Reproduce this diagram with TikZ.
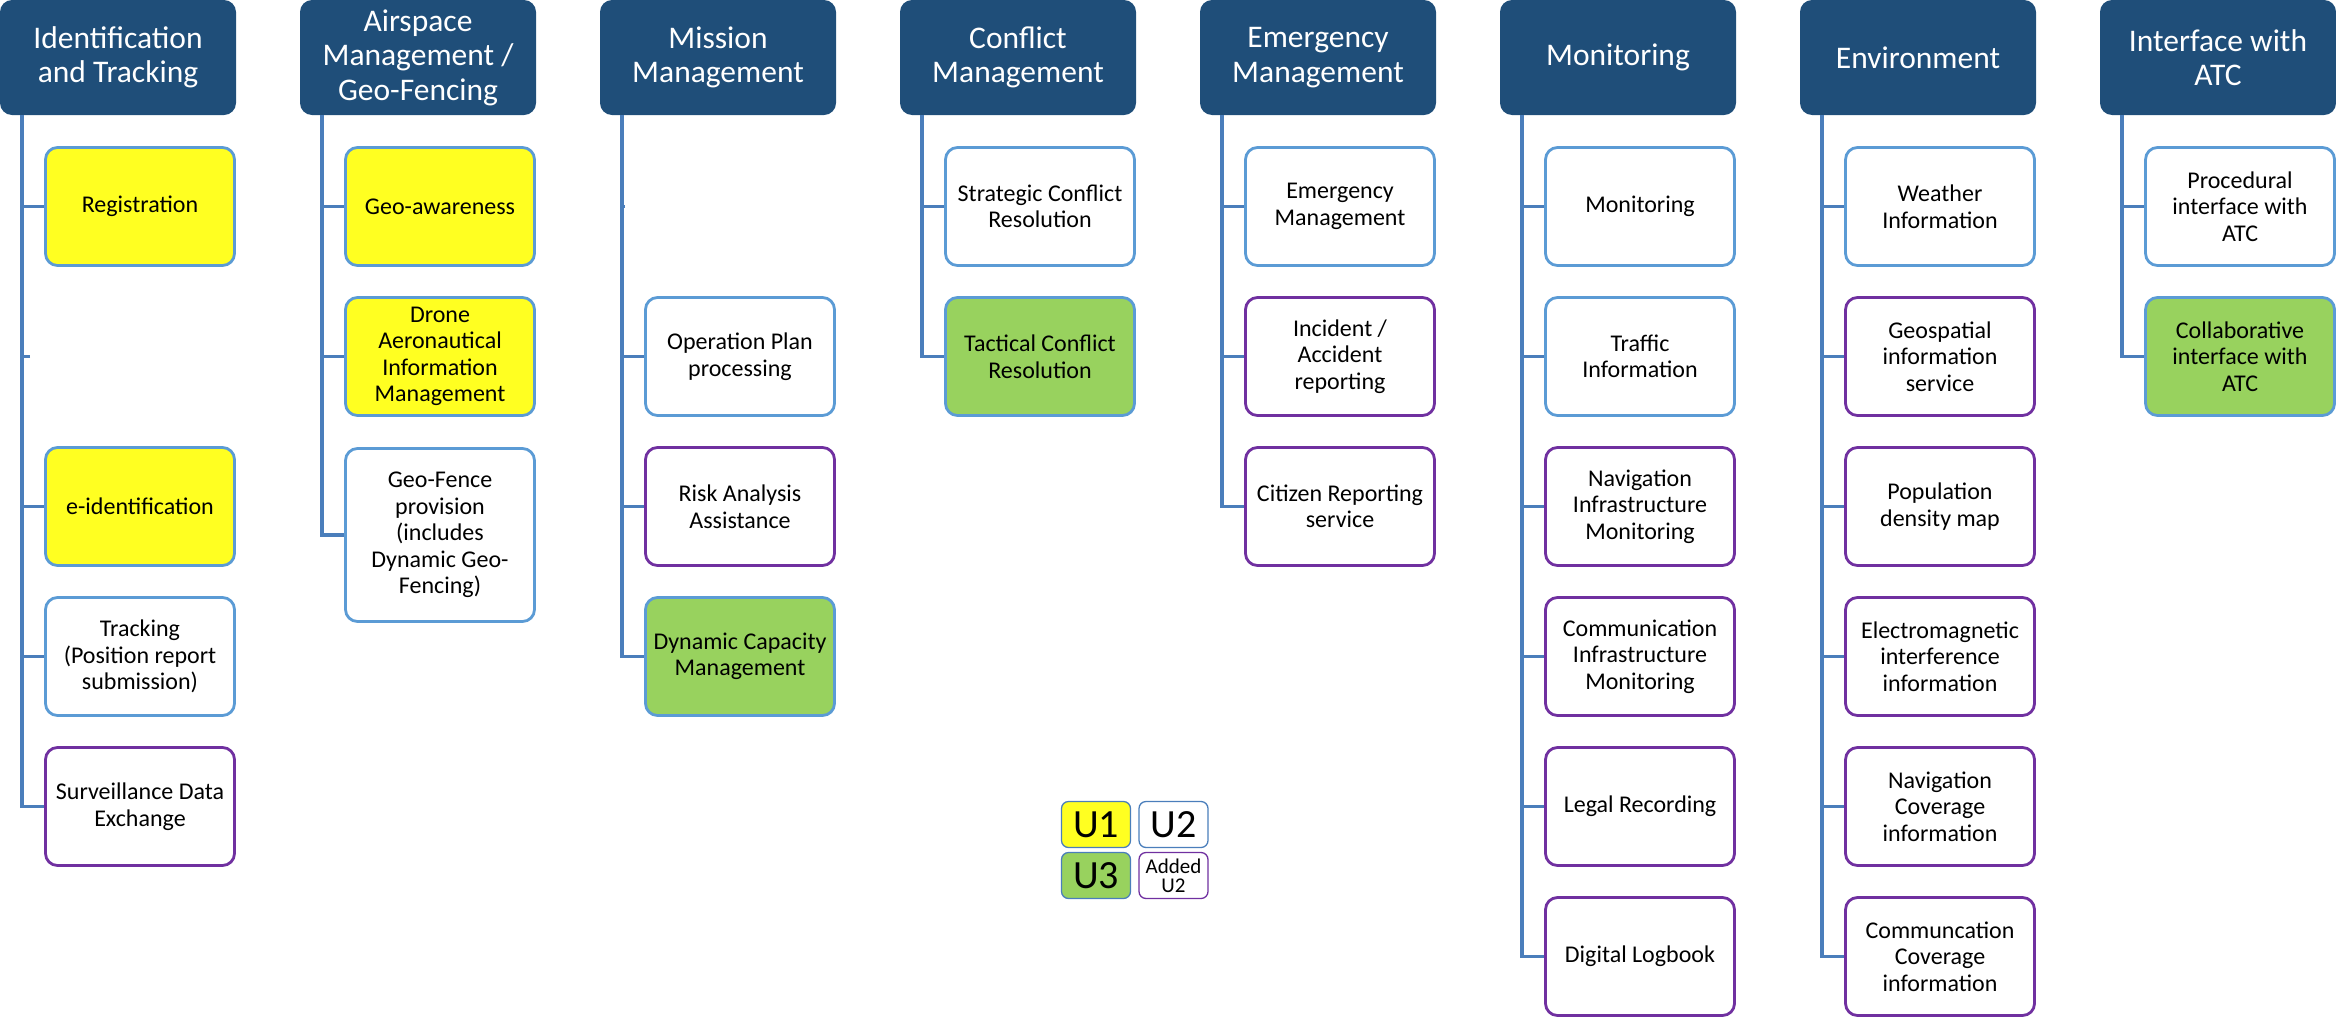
\documentclass[tikz,border=0pt]{standalone}
\usepackage{fontspec}
\setmainfont{Carlito}
\definecolor{hdrblue}{HTML}{1F4E79}
\definecolor{itemblue}{HTML}{5B9BD5}
\definecolor{treeblue}{HTML}{4A7EBB}
\definecolor{upurple}{HTML}{7030A0}
\definecolor{uyellow}{HTML}{FFFF21}
\definecolor{ugreen}{HTML}{98D25E}
\begin{document}
\begin{tikzpicture}[x=1pt,y=-1pt,
  hdr/.style={rectangle, rounded corners=12pt, fill=hdrblue, text=white,
    minimum width=236pt, minimum height=115pt, inner sep=0pt, align=center,
    font=\fontsize{31.5}{34.5}\selectfont},
  item/.style={rectangle, rounded corners=12pt, draw=itemblue, line width=2.8pt,
    fill=white, minimum width=189pt, minimum height=118pt, inner sep=0pt,
    align=center, font=\fontsize{24}{26.5}\selectfont},
  u1/.style={item, fill=uyellow},
  u3/.style={item, fill=ugreen},
  added/.style={item, draw=upurple},
  tree/.style={draw=treeblue, line width=3.2pt},
  key/.style={rectangle, rounded corners=7pt, draw=treeblue, line width=1.3pt,
    fill=white, minimum width=69pt, minimum height=46pt, inner sep=0pt,
    align=center, font=\fontsize{40}{40}\selectfont}
]
\useasboundingbox (0,0) rectangle (2336,1018);

% ---------- column headers ----------
\node[hdr] (h0) at (118,57.5)  {Identification\\and Tracking};
\node[hdr] (h1) at (418,57.5)  {Airspace\\Management /\\Geo-Fencing};
\node[hdr] (h2) at (718,57.5)  {Mission\\Management};
\node[hdr] (h3) at (1018,57.5) {Conflict\\Management};
\node[hdr] (h4) at (1318,57.5) {Emergency\\Management};
\node[hdr] (h5) at (1618,57.5) {Monitoring};
\node[hdr] (h6) at (1918,57.5) {Environment};
\node[hdr] (h7) at (2218,57.5) {Interface with\\ATC};

% trunk positions below each header
\coordinate (t0) at (22,115);
\coordinate (t1) at (322,115);
\coordinate (t2) at (622,115);
\coordinate (t3) at (922,115);
\coordinate (t4) at (1222,115);
\coordinate (t5) at (1522,115);
\coordinate (t6) at (1822,115);
\coordinate (t7) at (2122,115);

% ---------- Identification and Tracking ----------
\node[u1] (c0a) at (140,206.5) {Registration};
\coordinate (s0) at (30,356.5);
\node[u1] (c0c) at (140,506.5) {e-identification};
\node[item] (c0d) at (140,656.5) {Tracking\\(Position report\\submission)};
\node[added] (c0e) at (140,806.5) {Surveillance Data\\Exchange};

% ---------- Airspace Management / Geo-Fencing ----------
\node[u1] (c1a) at (440,206.5) {Geo-awareness};
\node[u1] (c1b) at (440,356.5) {Drone\\Aeronautical\\Information\\Management};
\node[item, minimum height=173pt] (c1c) at (440,535)
  {Geo-Fence\\provision\\(includes\\Dynamic Geo-\\Fencing)};

% ---------- Mission Management ----------
\coordinate (s2) at (625,206.5);
\node[item] (c2b) at (740,356.5) {Operation Plan\\processing};
\node[added] (c2c) at (740,506.5) {Risk Analysis\\Assistance};
\node[u3] (c2d) at (740,656.5) {Dynamic Capacity\\Management};

% ---------- Conflict Management ----------
\node[item] (c3a) at (1040,206.5) {Strategic Conflict\\Resolution};
\node[u3] (c3b) at (1040,356.5) {Tactical Conflict\\Resolution};

% ---------- Emergency Management ----------
\node[item] (c4a) at (1340,206.5) {Emergency\\Management};
\node[added] (c4b) at (1340,356.5) {Incident /\\Accident\\reporting};
\node[added] (c4c) at (1340,506.5) {Citizen Reporting\\service};

% ---------- Monitoring ----------
\node[item] (c5a) at (1640,206.5) {Monitoring};
\node[item] (c5b) at (1640,356.5) {Traffic\\Information};
\node[added] (c5c) at (1640,506.5) {Navigation\\Infrastructure\\Monitoring};
\node[added] (c5d) at (1640,656.5) {Communication\\Infrastructure\\Monitoring};
\node[added] (c5e) at (1640,806.5) {Legal Recording};
\node[added] (c5f) at (1640,956.5) {Digital Logbook};

% ---------- Environment ----------
\node[item] (c6a) at (1940,206.5) {Weather\\Information};
\node[added] (c6b) at (1940,356.5) {Geospatial\\information\\service};
\node[added] (c6c) at (1940,506.5) {Population\\density map};
\node[added] (c6d) at (1940,656.5) {Electromagnetic\\interference\\information};
\node[added] (c6e) at (1940,806.5) {Navigation\\Coverage\\information};
\node[added] (c6f) at (1940,956.5) {Communcation\\Coverage\\information};

% ---------- Interface with ATC ----------
\node[item] (c7a) at (2240,206.5) {Procedural\\interface with\\ATC};
\node[u3] (c7b) at (2240,356.5) {Collaborative\\interface with\\ATC};

% ---------- tree connectors ----------
\draw[tree] (t0) |- (c0e.west);
\foreach \c in {c0a,c0c,c0d} \draw[tree] (\c.west) -- (\c.west -| t0);
\draw[tree] (s0) -- (s0 -| t0);

\draw[tree] (t1) |- (c1c.west);
\foreach \c in {c1a,c1b} \draw[tree] (\c.west) -- (\c.west -| t1);

\draw[tree] (t2) |- (c2d.west);
\foreach \c in {c2b,c2c} \draw[tree] (\c.west) -- (\c.west -| t2);
\draw[tree] (s2) -- (s2 -| t2);

\draw[tree] (t3) |- (c3b.west);
\draw[tree] (c3a.west) -- (c3a.west -| t3);

\draw[tree] (t4) |- (c4c.west);
\foreach \c in {c4a,c4b} \draw[tree] (\c.west) -- (\c.west -| t4);

\draw[tree] (t5) |- (c5f.west);
\foreach \c in {c5a,c5b,c5c,c5d,c5e} \draw[tree] (\c.west) -- (\c.west -| t5);

\draw[tree] (t6) |- (c6f.west);
\foreach \c in {c6a,c6b,c6c,c6d,c6e} \draw[tree] (\c.west) -- (\c.west -| t6);

\draw[tree] (t7) |- (c7b.west);
\draw[tree] (c7a.west) -- (c7a.west -| t7);

% ---------- legend ----------
\node[key, fill=uyellow] (k1) at (1096,824.5) {U1};
\node[key] (k2) at (1173.5,824.5) {U2};
\node[key, fill=ugreen] (k3) at (1096,875.5) {U3};
\node[key, draw=upurple, font=\fontsize{21}{19}\selectfont] (k4) at (1173.5,875.5) {Added\\U2};
\end{tikzpicture}
\end{document}
